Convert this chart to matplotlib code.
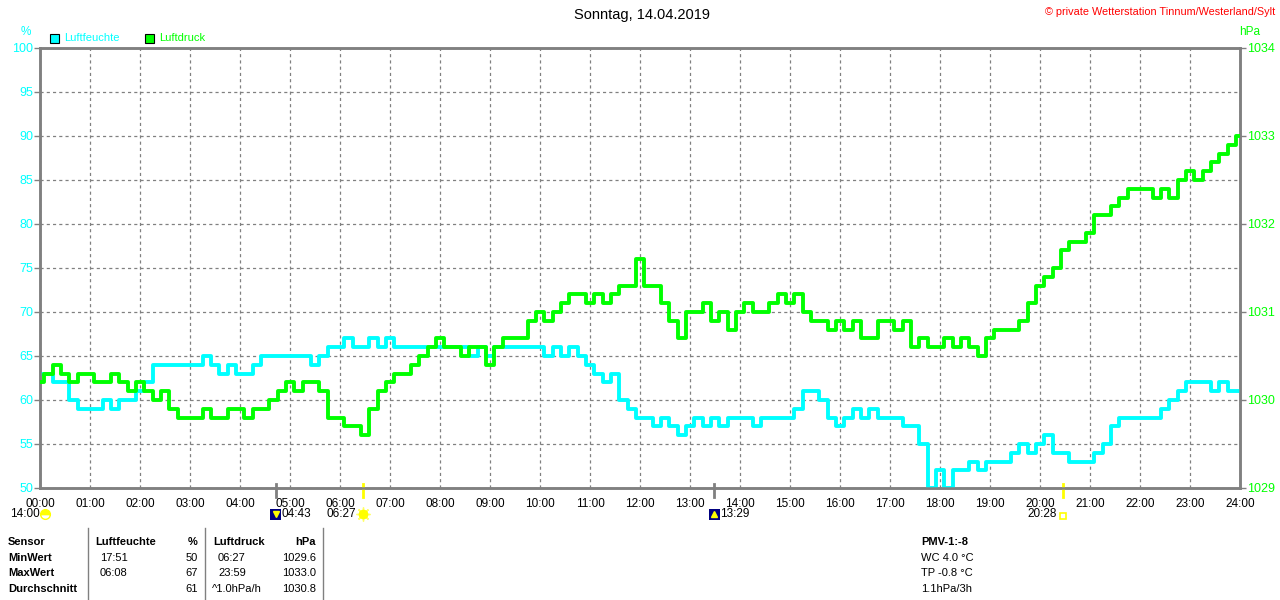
import numpy as np
import matplotlib.pyplot as plt
import matplotlib.transforms as mtransforms
from matplotlib.patches import Rectangle

plt.rcParams['font.family'] = ['Liberation Sans', 'DejaVu Sans']

# 10-minute readings, 00:00 .. 24:00 (145 values)
humidity = [
    63, 63, 62, 62, 60, 59,
    59, 59, 60, 59, 60, 60,
    61, 62, 64, 64, 64, 64,
    64, 64, 65, 64, 63, 64,
    63, 63, 64, 65, 65, 65,
    65, 65, 65, 64, 65, 66,
    66, 67, 66, 66, 67, 66,
    67, 66, 66, 66, 66, 66,
    66, 66, 66, 66, 65, 66,
    65, 66, 66, 66, 66, 66,
    66, 65, 66, 65, 66, 65,
    64, 63, 62, 63, 60, 59,
    58, 58, 57, 58, 57, 56,
    57, 58, 57, 58, 57, 58,
    58, 58, 57, 58, 58, 58,
    58, 59, 61, 61, 60, 58,
    57, 58, 59, 58, 59, 58,
    58, 58, 57, 57, 55, 50,
    52, 50, 52, 52, 53, 52,
    53, 53, 53, 54, 55, 54,
    55, 56, 54, 54, 53, 53,
    53, 54, 55, 57, 58, 58,
    58, 58, 58, 59, 60, 61,
    62, 62, 62, 61, 62, 61,
    61,
]
pressure = [
    1030.2, 1030.3, 1030.4, 1030.3, 1030.2, 1030.3,
    1030.3, 1030.2, 1030.2, 1030.3, 1030.2, 1030.1,
    1030.2, 1030.1, 1030.0, 1030.1, 1029.9, 1029.8,
    1029.8, 1029.8, 1029.9, 1029.8, 1029.8, 1029.9,
    1029.9, 1029.8, 1029.9, 1029.9, 1030.0, 1030.1,
    1030.2, 1030.1, 1030.2, 1030.2, 1030.1, 1029.8,
    1029.8, 1029.7, 1029.7, 1029.6, 1029.9, 1030.1,
    1030.2, 1030.3, 1030.3, 1030.4, 1030.5, 1030.6,
    1030.7, 1030.6, 1030.6, 1030.5, 1030.6, 1030.6,
    1030.4, 1030.6, 1030.7, 1030.7, 1030.7, 1030.9,
    1031.0, 1030.9, 1031.0, 1031.1, 1031.2, 1031.2,
    1031.1, 1031.2, 1031.1, 1031.2, 1031.3, 1031.3,
    1031.6, 1031.3, 1031.3, 1031.1, 1030.9, 1030.7,
    1031.0, 1031.0, 1031.1, 1030.9, 1031.0, 1030.8,
    1031.0, 1031.1, 1031.0, 1031.0, 1031.1, 1031.2,
    1031.1, 1031.2, 1031.0, 1030.9, 1030.9, 1030.8,
    1030.9, 1030.8, 1030.9, 1030.7, 1030.7, 1030.9,
    1030.9, 1030.8, 1030.9, 1030.6, 1030.7, 1030.6,
    1030.6, 1030.7, 1030.6, 1030.7, 1030.6, 1030.5,
    1030.7, 1030.8, 1030.8, 1030.8, 1030.9, 1031.1,
    1031.3, 1031.4, 1031.5, 1031.7, 1031.8, 1031.8,
    1031.9, 1032.1, 1032.1, 1032.2, 1032.3, 1032.4,
    1032.4, 1032.4, 1032.3, 1032.4, 1032.3, 1032.5,
    1032.6, 1032.5, 1032.6, 1032.7, 1032.8, 1032.9,
    1033.0,
]
times = np.arange(len(humidity)) / 6.0
hour_labels = ["%02d:00" % h for h in range(25)]

# sun / moon events below the time axis
event_labels = ["04:43", "06:27", "13:29", "20:28"]
event_hours = [4 + 43 / 60, 6 + 27 / 60, 13 + 29 / 60, 20 + 28 / 60]
event_kinds = ["moonset", "sunrise", "moonrise", "sunset"]

table_rows = ["Sensor", "MinWert", "MaxWert", "Durchschnitt"]
hum_times = ["", "17:51", "06:08", ""]
hum_vals = ["%", "50", "67", "61"]
pres_times = ["", "06:27", "23:59", "^1.0hPa/h"]
pres_vals = ["hPa", "1029.6", "1033.0", "1030.8"]
extra_info = ["PMV-1:-8", "WC 4.0 °C", "TP -0.8 °C", "1.1hPa/3h"]

CYAN = "#00ffff"
GREEN = "#00ff00"
GRAY = "#808080"
W, H = 1280, 600


def fx(px):
    return px / W


def fy(py):
    return 1 - py / H


fig = plt.figure(figsize=(12.8, 6), dpi=100)
ax = fig.add_axes([fx(40), fy(488), 1200 / W, 440 / H])
ax2 = ax.twinx()

ax.plot(times, humidity, color=CYAN, linewidth=2.8, drawstyle="steps-mid", zorder=3)
ax2.plot(times, pressure, color=GREEN, linewidth=2.8, drawstyle="steps-mid", zorder=3)

ax.set_xlim(0, 24)
ax.set_ylim(50, 100)
ax2.set_ylim(1029, 1034)
ax.set_xticks(range(25))
ax.set_xticklabels(hour_labels)
ax.set_yticks(range(50, 101, 5))
ax2.set_yticks(range(1029, 1035))

ax.grid(True, color=GRAY, linestyle=(0, (2.5, 2.5)), linewidth=0.9)
ax.set_axisbelow(True)

for a in (ax, ax2):
    for s in a.spines.values():
        s.set_color(GRAY)
        s.set_linewidth(1.8)
ax.tick_params(axis="x", length=0, pad=7, labelsize=8.5, colors="black")
ax.tick_params(axis="y", length=4, width=1, color=GRAY, labelcolor=CYAN, labelsize=9, pad=1)
ax2.tick_params(axis="y", length=4, width=1, color=GRAY, labelcolor=GREEN, labelsize=9, pad=1)

# event markers on the time axis
trans = mtransforms.blended_transform_factory(ax.transData, ax.transAxes)
y_row = -(514 - 488) / 440
for lab, t, kind in zip(event_labels, event_hours, event_kinds):
    sun = kind.startswith("sun")
    ax.plot([t, t], [-0.021, 0.009], color="#ffff00" if sun else GRAY,
            linewidth=2, transform=trans, clip_on=False, zorder=5)
    if sun:
        if kind == "sunrise":
            ax.plot([t], [y_row], marker=(8, 2, 0), markersize=10, color="#ffff66",
                    transform=trans, clip_on=False)
            ax.plot([t], [y_row], marker="o", markersize=6, color="#ffff00",
                    transform=trans, clip_on=False)
        else:
            ax.plot([t], [y_row - 0.005], marker="s", markersize=5, markerfacecolor="none",
                    markeredgecolor="#ffff00", markeredgewidth=1.2, transform=trans, clip_on=False)
        ax.text(t - 0.13, y_row, lab, transform=trans, ha="right", va="center", fontsize=8.5)
    else:
        ax.add_patch(Rectangle((t - 0.11, y_row - 0.013), 0.22, 0.025, transform=trans,
                               facecolor="#000080", edgecolor="none", clip_on=False))
        ax.plot([t], [y_row], marker="v" if kind == "moonset" else "^", markersize=4,
                color="#ffff00", transform=trans, clip_on=False)
        ax.text(t + 0.12, y_row, lab, transform=trans, ha="left", va="center", fontsize=8.5)

# time at far left with small cloud
fig.text(fx(10), fy(514), "14:00", ha="left", va="center", fontsize=8.5)
ax.plot([0.1], [y_row], marker="o", fillstyle="top", markersize=7, color="#ffff00",
        markeredgecolor="#ffff00", transform=trans, clip_on=False)

# headings
fig.text(fx(642), fy(15), "Sonntag, 14.04.2019", ha="center", va="center", fontsize=10.5)
fig.text(fx(1275), fy(12), "© private Wetterstation Tinnum/Westerland/Sylt",
         ha="right", va="center", fontsize=7.8, color="red")
fig.text(fx(26), fy(32), "%", ha="center", va="center", fontsize=8.5, color=CYAN)
fig.text(fx(1250), fy(32), "hPa", ha="center", va="center", fontsize=8.5, color=GREEN)

# legend
for x0, col, name in [(50, CYAN, "Luftfeuchte"), (145, GREEN, "Luftdruck")]:
    fig.add_artist(Rectangle((fx(x0), fy(43)), 9 / W, 9 / H, transform=fig.transFigure,
                             facecolor=col, edgecolor="black", linewidth=0.8))
    fig.text(fx(x0 + 14), fy(38), name, ha="left", va="center", fontsize=8, color=col)

# summary table
for xs in (88, 205, 323):
    fig.add_artist(plt.Line2D([fx(xs), fx(xs)], [fy(528), fy(600)], color=GRAY,
                              linewidth=1, transform=fig.transFigure))
row_y = [542, 558, 573, 589]
for i, yy in enumerate(row_y):
    bold = "bold" if i == 0 else "normal"
    fig.text(fx(8), fy(yy), table_rows[i], ha="left", va="center", fontsize=8, weight="bold")
    if i == 0:
        fig.text(fx(95), fy(yy), "Luftfeuchte", ha="left", va="center", fontsize=8, weight="bold")
        fig.text(fx(213), fy(yy), "Luftdruck", ha="left", va="center", fontsize=8, weight="bold")
    else:
        fig.text(fx(100), fy(yy), hum_times[i], ha="left", va="center", fontsize=8)
        fig.text(fx(218 if i < 3 else 212), fy(yy), pres_times[i], ha="left", va="center", fontsize=8)
    fig.text(fx(198), fy(yy), hum_vals[i], ha="right", va="center", fontsize=8, weight=bold)
    fig.text(fx(316), fy(yy), pres_vals[i], ha="right", va="center", fontsize=8, weight=bold)
    fig.text(fx(921), fy(yy), extra_info[i], ha="left", va="center", fontsize=8, weight=bold)

fig.savefig("out.png", dpi=100)
